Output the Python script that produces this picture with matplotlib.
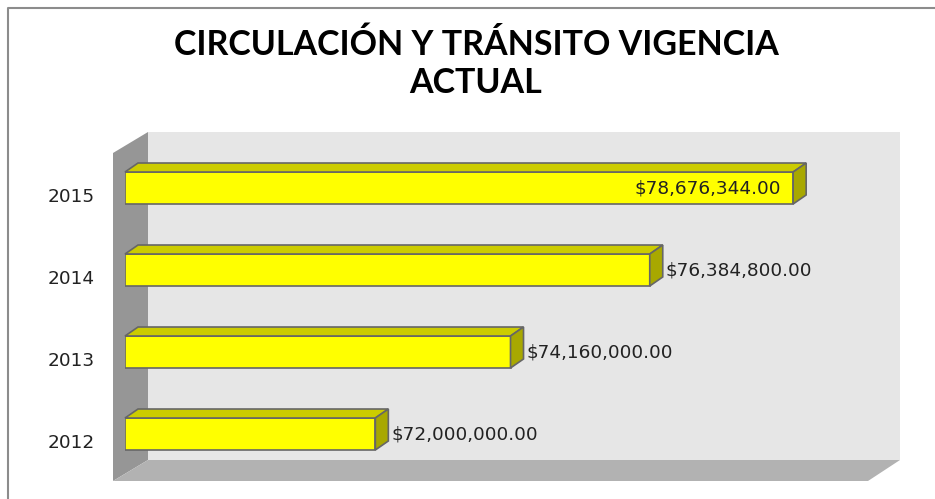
import matplotlib
matplotlib.use("Agg")
import matplotlib.pyplot as plt
from matplotlib.patches import Polygon
from matplotlib.transforms import IdentityTransform, ScaledTranslation

# chart data
years = ["2012", "2013", "2014", "2015"]
values = [72000000.00, 74160000.00, 76384800.00, 78676344.00]
x_min = 68000000
x_max = 80000000
title_lines = ["CIRCULACIÓN Y TRÁNSITO VIGENCIA", "ACTUAL"]

# colours
front_col = "#ffff00"
top_col = "#cccc00"
side_col = "#a8a800"
edge_col = "#666666"

W, H = 935, 499
fig = plt.figure(figsize=(W / 100, H / 100), dpi=100)
fig.patch.set_facecolor("white")

# background axes in pixel units for the 3d box (walls + floor)
bg = fig.add_axes([0, 0, 1, 1])
bg.set_xlim(0, W)
bg.set_ylim(H, 0)
bg.axis("off")
bg.add_patch(Polygon([(148, 132), (900, 132), (900, 460), (148, 460)],
                     closed=True, facecolor="#e6e6e6", edgecolor="none"))
bg.add_patch(Polygon([(113, 153), (148, 132), (148, 460), (113, 481)],
                     closed=True, facecolor="#969696", edgecolor="none"))
bg.add_patch(Polygon([(113, 481), (868, 481), (900, 460), (148, 460)],
                     closed=True, facecolor="#b2b2b2", edgecolor="none"))
# chart border
bg.plot([8, 8, W], [H, 8, 8], color="#8c8c8c", lw=1.5)

# front plane axes
ax = fig.add_axes([125 / W, (H - 475) / H, (876 - 125) / W, (475 - 147) / H])
ax.patch.set_alpha(0)
ax.set_xlim(x_min, x_max)
ax.set_ylim(-0.5, 3.5)
for s in ax.spines.values():
    s.set_visible(False)
ax.set_xticks([])
ax.set_yticks(range(len(years)))
ax.set_yticklabels(years, fontsize=13.3, color="#222222")
ax.tick_params(axis="y", length=0, pad=22)
shift = ScaledTranslation(0, -5 / 72, fig.dpi_scale_trans)
for lab in ax.get_yticklabels():
    lab.set_transform(lab.get_transform() + shift)

bar_h = 0.39
pos = list(range(len(years)))
ax.barh(pos, [v - x_min for v in values], left=x_min, height=bar_h,
        color=front_col, edgecolor=edge_col, linewidth=1.2, zorder=3)

# depth faces (pixel offset of the 3d effect)
dx, dy = 13, 9
for i, v in enumerate(values):
    (x0, yb), (x1, yt) = ax.transData.transform([(x_min, i - bar_h / 2), (v, i + bar_h / 2)])
    top = Polygon([(x0, yt), (x1, yt), (x1 + dx, yt + dy), (x0 + dx, yt + dy)],
                  closed=True, facecolor=top_col, edgecolor=edge_col, lw=1.2,
                  transform=IdentityTransform(), zorder=2)
    side = Polygon([(x1, yb), (x1, yt), (x1 + dx, yt + dy), (x1 + dx, yb + dy)],
                   closed=True, facecolor=side_col, edgecolor=edge_col, lw=1.2,
                   transform=IdentityTransform(), zorder=2)
    fig.add_artist(top)
    fig.add_artist(side)

    txt = f"${v:,.2f}"
    if v >= max(values):
        ax.annotate(txt, (v, i), xytext=(-12, 0), textcoords="offset pixels",
                    ha="right", va="center", fontsize=13.3, color="#222222", zorder=5)
    else:
        ax.annotate(txt, (v, i), xytext=(16, 0), textcoords="offset pixels",
                    ha="left", va="center", fontsize=13.3, color="#222222", zorder=5)

# title, two lines placed on their baselines
for line, base in zip(title_lines, [55, 93]):
    fig.text(476 / W, 1 - base / H, line, ha="center", va="baseline", fontsize=24.5,
             fontweight="bold", family=["Lato", "DejaVu Sans"])

fig.savefig("out.png", dpi=100)
